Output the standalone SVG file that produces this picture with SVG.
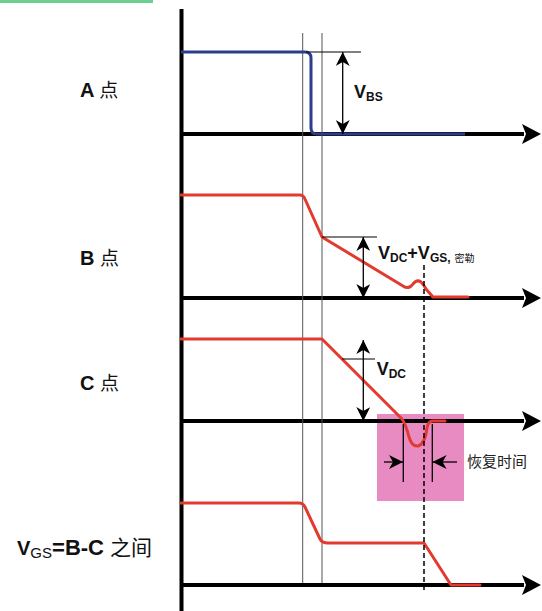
<svg xmlns="http://www.w3.org/2000/svg" width="542" height="611" viewBox="0 0 542 611">
<style>
.ax{stroke:#000;stroke-width:4;fill:none}
.thin{stroke:#555;stroke-width:1;fill:none}
.tick{stroke:#000;stroke-width:1;fill:none}
.dim{stroke:#000;stroke-width:1.3;fill:none}
.red{stroke:#e23a2f;stroke-width:3;fill:none;stroke-linejoin:round;stroke-linecap:round}
.blue{stroke:#2d3d8e;stroke-width:3;fill:none;stroke-linejoin:round}
.lbl{font-family:"Liberation Sans","Noto Sans CJK SC",Arial,sans-serif;font-weight:bold;font-size:20px;fill:#111}
.cjk{font-family:"Noto Sans CJK SC","Liberation Sans",sans-serif;font-weight:normal}
.v{font-family:"Liberation Sans","Noto Sans CJK SC",Arial,sans-serif;font-weight:bold;font-size:18px;fill:#111}
.sub{font-size:12px}
</style>
<defs>
<marker id="ah" viewBox="0 0 14 14" refX="14" refY="7" markerWidth="14" markerHeight="14" markerUnits="userSpaceOnUse" orient="auto-start-reverse">
<path d="M0,0 L14,7 L0,14 L4,7 Z" fill="#000"/>
</marker>
<marker id="axh" viewBox="0 0 19 20" refX="2" refY="10" markerWidth="19" markerHeight="20" markerUnits="userSpaceOnUse" orient="auto">
<path d="M0,0 L19,10 L0,20 L4,10 Z" fill="#000"/>
</marker>
</defs>
<rect x="0" y="0" width="153" height="3" fill="#6dcf8c"/>

<g id="highlight">
<rect x="377" y="414" width="87" height="87" fill="#e98bc3"/>
</g>

<g id="axes">
<line class="ax" x1="181.5" y1="9" x2="181.5" y2="611"/>
<line class="ax" x1="181" y1="134" x2="524" y2="134" marker-end="url(#axh)"/>
<line class="ax" x1="181" y1="298" x2="524" y2="298" marker-end="url(#axh)"/>
<line class="ax" x1="181" y1="421" x2="524" y2="421" marker-end="url(#axh)"/>
<line class="ax" x1="181" y1="585" x2="524" y2="585" marker-end="url(#axh)"/>
<line class="thin" x1="302.7" y1="33" x2="302.7" y2="583"/>
<line class="thin" x1="322" y1="33" x2="322" y2="583"/>
</g>

<g id="waveA">
<path class="blue" d="M181,52 L305,52 Q311,52 311,58 L311,128 Q311,134 317,134 L465,134"/>
</g>
<g id="waveB">
<path class="red" d="M181,195 L300,195 Q303,195 304.5,198 L322,237 L403,286 Q409,290 413,284 Q417,279 421,282 Q424,285 426,289 L433,297 L468,297"/>
</g>
<g id="waveC">
<path class="red" d="M181,339 L322,339 L402,419 Q406,425 409,437 Q412,447 418,446 Q425,444 427,428 Q428,421 433,421 L445,421"/>
</g>
<g id="waveD">
<path class="red" d="M181,503 L299,503 Q303,503 305,507 L320,539 Q322,543 328,543 L424,543 L451,585 L480,585"/>
</g>

<g id="connectors">
<line class="tick" x1="306" y1="52" x2="361" y2="52"/>
<line class="dim" x1="342.7" y1="52" x2="342.7" y2="134" marker-start="url(#ah)" marker-end="url(#ah)"/>
<line class="tick" x1="322" y1="237" x2="377" y2="237"/>
<line class="dim" x1="363.3" y1="237" x2="363.3" y2="298" marker-start="url(#ah)" marker-end="url(#ah)"/>
<line class="tick" x1="342" y1="359" x2="375" y2="359"/>
<line class="dim" x1="363.3" y1="340" x2="363.3" y2="421" marker-start="url(#ah)" marker-end="url(#ah)"/>
<line stroke="#000" stroke-width="1.5" stroke-dasharray="5,3" x1="424" y1="265" x2="424" y2="590"/>
<line class="dim" x1="403.3" y1="424" x2="403.3" y2="482"/>
<line class="dim" x1="432.3" y1="424" x2="432.3" y2="482"/>
<line class="dim" x1="384" y1="462" x2="403" y2="462" marker-end="url(#ah)"/>
<line class="dim" x1="457" y1="462" x2="432.6" y2="462" marker-end="url(#ah)"/>
</g>

<g id="label-A"><text class="lbl" x="80" y="97">A <tspan class="cjk" font-size="19">点</tspan></text></g>
<g id="label-B"><text class="lbl" x="80" y="265">B <tspan class="cjk" font-size="19">点</tspan></text></g>
<g id="label-C"><text class="lbl" x="80" y="390">C <tspan class="cjk" font-size="19">点</tspan></text></g>
<g id="label-VGS"><text class="lbl" x="17" y="555" font-size="23">V<tspan font-size="15" font-weight="normal" dy="3">GS</tspan><tspan dy="-3" font-size="22">=B-C </tspan><tspan class="cjk" font-size="21">之间</tspan></text></g>

<g id="label-VBS"><text class="v" x="354" y="98">V<tspan class="sub" dy="3">BS</tspan></text></g>
<g id="label-VDCVGS"><text class="v" x="378" y="259">V<tspan class="sub" dy="3">DC</tspan><tspan dy="-3">+V</tspan><tspan class="sub" dy="3">GS,</tspan><tspan class="cjk" font-size="10" font-weight="normal" dx="4">密勒</tspan></text></g>
<g id="label-VDC"><text class="v" x="376.7" y="375">V<tspan class="sub" dy="3">DC</tspan></text></g>
<g id="label-recovery"><text class="cjk" x="467" y="467" font-size="15" fill="#222">恢复时间</text></g>
</svg>
